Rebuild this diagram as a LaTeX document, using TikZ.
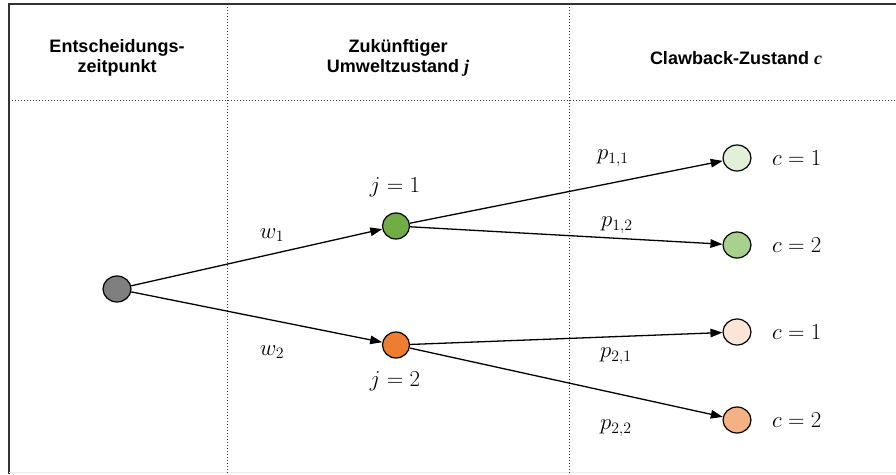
\documentclass[tikz,border=0pt]{standalone}
\usepackage[no-math]{fontspec}
\setmainfont{Liberation Sans}
\newfontfamily\timesf{Liberation Serif}
\usetikzlibrary{arrows.meta,shapes.geometric}
\definecolor{rootgray}{HTML}{7F7F7F}
\definecolor{jgreen}{HTML}{70AD47}
\definecolor{jorange}{HTML}{ED7D31}
\definecolor{lgreenA}{HTML}{E2F0D9}
\definecolor{lgreenB}{HTML}{A9D18E}
\definecolor{lorangeA}{HTML}{FBE5D6}
\definecolor{lorangeB}{HTML}{F4B183}
\newcommand{\mlab}[1]{\scalebox{1.1}{$#1$}}
\tikzset{
  statenode/.style={ellipse,draw=black,line width=1.2pt,minimum width=28pt,minimum height=26pt,inner sep=0pt},
  branch/.style={line width=1.3pt,-{Triangle[length=12pt,width=8.5pt]}},
  sep/.style={dotted,line width=1pt,black!80},
  header/.style={font=\fontsize{18}{20.5}\selectfont\bfseries,align=center},
  mlabel/.style={font=\huge,inner sep=0pt}
}
\begin{document}
\begin{tikzpicture}[x=1pt,y=-1pt]
\useasboundingbox (0,0) rectangle (896,474);
% frame
\draw[line width=2pt,black!80] (9,474) -- (9,4) -- (896,4);
\draw[line width=0.8pt,black!8] (9,472) -- (896,472);
% separators
\draw[sep] (9,100) -- (896,100);
\draw[sep] (227,4) -- (227,474);
\draw[sep] (569,4) -- (569,474);
% headers
\node[header] (h1) at (117,58) {Entscheidungs-\\zeitpunkt};
\node[header] (h2) at (398,58) {Zukünftiger\\Umweltzustand {\timesf\itshape j}};
\node[header] (h3) at (736,58) {Clawback-Zustand {\timesf\itshape c}};
% nodes
\node[statenode,fill=rootgray] (r) at (117,289) {};
\node[statenode,fill=jgreen,minimum width=27pt] (j1) at (396,226) {};
\node[statenode,fill=jorange,minimum width=27pt] (j2) at (396,345) {};
\node[statenode,fill=lgreenA] (c11) at (737,158) {};
\node[statenode,fill=lgreenB] (c12) at (737,245) {};
\node[statenode,fill=lorangeA] (c21) at (737,332) {};
\node[statenode,fill=lorangeB] (c22) at (737,420) {};
% connectors
\draw[branch] (r) -- (j1);
\draw[branch] (r) -- (j2);
\draw[branch] (j1) -- (c11);
\draw[branch] (j1) -- (c12);
\draw[branch] (j2) -- (c21);
\draw[branch] (j2) -- (c22);
% labels
\node[mlabel] (lj1) at (395,187) {\mlab{j=1}};
\node[mlabel] (lj2) at (395,381) {\mlab{j=2}};
\node[mlabel] (lw1) at (272,235) {\mlab{w_1}};
\node[mlabel] (lw2) at (272,352) {\mlab{w_2}};
\node[mlabel] (lp11) at (613,158) {\mlab{p_{1,1}}};
\node[mlabel] (lp12) at (617,225) {\mlab{p_{1,2}}};
\node[mlabel] (lp21) at (616,356) {\mlab{p_{2,1}}};
\node[mlabel] (lp22) at (616,428) {\mlab{p_{2,2}}};
\node[mlabel,anchor=west] (lc11) at (772,158) {\mlab{c=1}};
\node[mlabel,anchor=west] (lc12) at (772,245) {\mlab{c=2}};
\node[mlabel,anchor=west] (lc21) at (772,332) {\mlab{c=1}};
\node[mlabel,anchor=west] (lc22) at (772,420) {\mlab{c=2}};
\end{tikzpicture}
\end{document}
